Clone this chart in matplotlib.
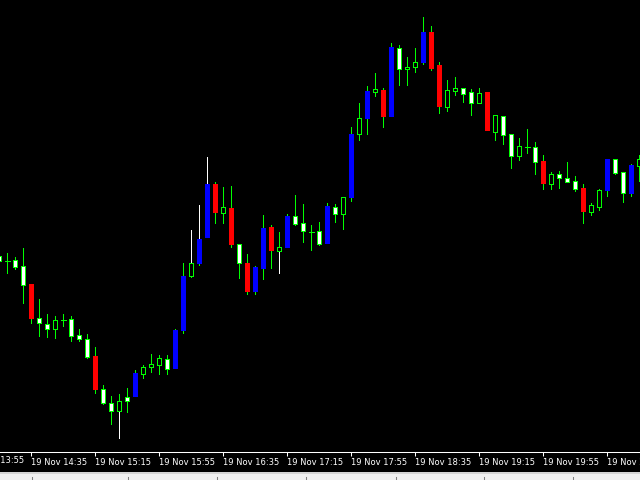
import numpy as np
import pandas as pd
import matplotlib
matplotlib.use("Agg")
import matplotlib.pyplot as plt
from matplotlib.lines import Line2D
from matplotlib.patches import Rectangle

# 5-minute bars, 19 Nov 14:15 .. 20:55 (price in points)
opens = [194, 189, 190, 184, 166, 132, 126, 121, 130, 131, 115, 111, 94, 61, 47, 39, 53, 53, 76, 83,
         85, 91, 81, 119, 174, 186, 212, 266, 237, 242, 206, 187, 158, 181, 223, 199, 202, 234, 227, 218,
         219, 206, 243, 236, 252, 316, 331, 358, 360, 333, 402, 381, 383, 387, 418, 385, 343, 359, 362, 358,
         347, 358, 318, 334, 316, 294, 303, 303, 289, 266, 276, 272, 269, 262, 238, 243, 259, 291, 278, 256,
         284]
highs = [199, 197, 193, 202, 166, 151, 136, 134, 136, 134, 121, 116, 103, 65, 54, 56, 62, 80, 85, 96,
         95, 95, 121, 187, 220, 245, 293, 268, 263, 264, 206, 196, 184, 235, 225, 218, 236, 255, 246, 225,
         228, 247, 246, 253, 323, 347, 364, 377, 362, 407, 405, 393, 402, 433, 424, 388, 370, 373, 362, 361,
         362, 358, 335, 334, 316, 312, 321, 308, 295, 278, 279, 288, 274, 266, 247, 261, 291, 291, 278, 286,
         295]
lows = [185, 177, 181, 147, 127, 114, 113, 112, 124, 109, 109, 92, 57, 46, 26, 12, 38, 53, 72, 78,
        76, 76, 81, 117, 173, 185, 212, 227, 227, 203, 172, 156, 156, 171, 182, 177, 202, 225, 208, 200,
        205, 206, 228, 221, 249, 310, 316, 354, 323, 333, 365, 365, 378, 386, 380, 337, 339, 355, 348, 335,
        347, 319, 310, 306, 282, 290, 297, 276, 261, 261, 262, 268, 259, 227, 235, 240, 254, 276, 248, 254,
        269]
closes = [189, 189, 183, 165, 131, 127, 121, 130, 130, 114, 111, 93, 60, 47, 39, 49, 49, 77, 83, 86,
          92, 81, 120, 174, 187, 211, 266, 237, 243, 205, 187, 158, 183, 222, 199, 203, 234, 226, 219, 218,
          206, 244, 236, 253, 316, 332, 359, 361, 333, 403, 381, 383, 388, 418, 381, 343, 360, 362, 356, 347,
          357, 319, 335, 315, 294, 304, 303, 288, 266, 276, 272, 268, 261, 238, 245, 260, 291, 277, 257, 285,
          291]
# bars whose wick part is drawn white instead of green
white_upper = [24, 25, 26]
white_lower = [15, 35]

times = pd.date_range("2023-11-19 14:15", periods=len(opens), freq="5min")
label_every = 8
first_label = 4
big_body = 23  # bodies at least this size get the blue / red fill

GREEN = "#00ff00"
BLUE = "#0000ff"
RED = "#ff0000"
LW = 0.72  # one pixel at 100 dpi
BODY_W = 0.625  # 5 px of the 8 px bar step
INNER_W = 0.375
EDGE = 1.0  # one pixel in price points

o = np.array(opens)
h = np.array(highs)
l = np.array(lows)
c = np.array(closes)
x = np.arange(len(o))
top = np.maximum(o, c)
bot = np.minimum(o, c)
body = top - bot

fig = plt.figure(figsize=(6.4, 4.8), dpi=100, facecolor="black")
ax = fig.add_axes([0, 28.5 / 480, 1, 451.5 / 480])
ax.set_facecolor("black")

# wicks
up_col = [("white" if i in white_upper else GREEN) for i in x]
dn_col = [("white" if i in white_lower else GREEN) for i in x]
ax.vlines(x, top, h, colors=up_col, lw=LW, antialiased=False, zorder=1)
ax.vlines(x, l, bot, colors=dn_col, lw=LW, antialiased=False, zorder=1)

bull = c > o
bear = c < o
doji = c == o
big = body >= big_body

m = bull & big
ax.bar(x[m], body[m], bottom=bot[m], width=BODY_W, color=BLUE, lw=0, antialiased=False, zorder=3)
m = bear & big
ax.bar(x[m], body[m], bottom=bot[m], width=BODY_W, color=RED, lw=0, antialiased=False, zorder=3)

# small bodies: green frame with black (up) or white (down) inside
m = ~big & ~doji
ax.bar(x[m], body[m] + EDGE, bottom=bot[m] - EDGE / 2, width=BODY_W, color=GREEN, lw=0,
       antialiased=False, zorder=3)
m = bull & ~big
ax.bar(x[m], body[m] - EDGE, bottom=bot[m] + EDGE / 2, width=INNER_W, color="black", lw=0,
       antialiased=False, zorder=4)
m = bear & ~big
ax.bar(x[m], body[m] - EDGE, bottom=bot[m] + EDGE / 2, width=INNER_W, color="white", lw=0,
       antialiased=False, zorder=4)
ax.hlines(o[doji], x[doji] - 0.3, x[doji] + 0.3, colors=GREEN, lw=LW, antialiased=False, zorder=3)

ax.set_xlim(0.0875, 80.0875)
ax.set_ylim(-1.5, 450)

ticks = np.arange(first_label, len(x), label_every)
ax.set_xticks(ticks)
ax.set_xticklabels([times[i].strftime("%d %b %H:%M") for i in ticks])
ax.tick_params(axis="x", colors="white", direction="out", length=3, width=0.75, pad=1.5, labelsize=6)
for t in ax.get_xticklabels():
    t.set_ha("left")
ax.set_yticks([])
for s in ["top", "left", "right"]:
    ax.spines[s].set_visible(False)
ax.spines["bottom"].set_color("white")
ax.spines["bottom"].set_linewidth(0.75)

# label of the bar that sits just off the left edge
prev = times[0] - (times[1] - times[0]) * first_label
ax.text(first_label - label_every + 0.15, -0.0105, prev.strftime("%d %b %H:%M"), color="white",
        fontsize=6, ha="left", va="top", transform=ax.get_xaxis_transform(), clip_on=False)

# window strip at the very bottom
fig.patches.append(Rectangle((0, 0), 1, 6.5 / 480, transform=fig.transFigure,
                             facecolor="#f0f0f0", edgecolor="none"))
fig.lines.append(Line2D([0, 1], [7.5 / 480, 7.5 / 480], transform=fig.transFigure,
                        color="white", lw=1.2))
for px in [31.7, 128.3, 217.3, 306, 395.7, 484.3, 573.3]:
    fig.lines.append(Line2D([px / 640, px / 640], [0, 3.5 / 480], transform=fig.transFigure,
                            color="#808080", lw=0.75))

fig.savefig("out.png", dpi=100, facecolor="black")
